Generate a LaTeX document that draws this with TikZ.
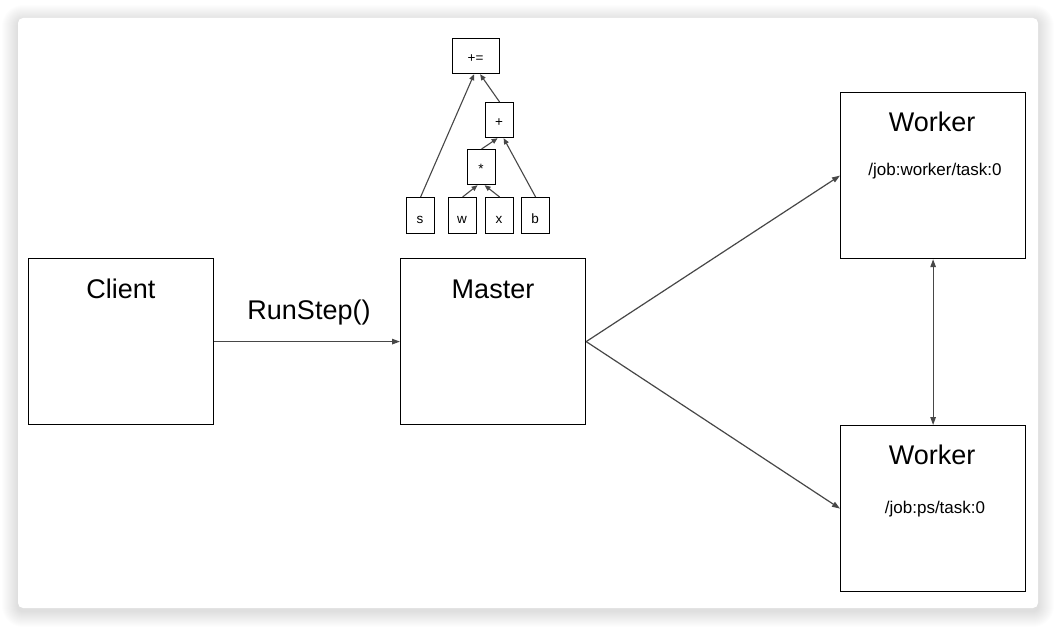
\documentclass[tikz,border=0pt]{standalone}
\usepackage{fontspec}
\setmainfont{Liberation Sans}
\usetikzlibrary{arrows.meta}
\begin{document}
\begin{tikzpicture}[x=1pt,y=-1pt,
  box/.style={draw=black,line width=1.2pt,fill=white,inner sep=0pt,anchor=north west},
  bigtxt/.style={font=\fontsize{27}{30}\selectfont,inner sep=0pt},
  midtxt/.style={font=\fontsize{17}{20}\selectfont,inner sep=0pt},
  smalltxt/.style={font=\fontsize{13.5}{15}\selectfont,inner sep=0pt},
  arr/.style={draw=black!72,line width=1.2pt,-{Triangle[length=8pt,width=5.5pt]}},
  darr/.style={draw=black!72,line width=1.2pt,{Triangle[length=8pt,width=5.5pt]}-{Triangle[length=8pt,width=5.5pt]}},
  tarr/.style={draw=black!72,line width=1.1pt,-{Triangle[length=6pt,width=5pt]}}
]
\useasboundingbox (0,0) rectangle (1056,626);
\fill[white] (0,0) rectangle (1056,626);
% card shadow
\foreach \i in {1,...,16}{
  \fill[black,opacity=0.008,rounded corners={5pt+\i pt}] (18-\i,21-\i) rectangle (1038+\i,611+\i);
}
\fill[white,rounded corners=5pt] (18,18) rectangle (1038,608);

% main boxes
\node[box,minimum width=185pt,minimum height=166pt] (client) at (28,258) {};
\node[box,minimum width=185pt,minimum height=166pt] (master) at (400,258) {};
\node[box,minimum width=185pt,minimum height=166pt] (w1) at (840,92) {};
\node[box,minimum width=185pt,minimum height=166pt] (w2) at (840,425) {};

\node[bigtxt] (clientT) at (121,289) {Client};
\node[bigtxt] (masterT) at (493,289) {Master};
\node[bigtxt] (w1T) at (932,122) {Worker};
\node[bigtxt] (w2T) at (932,455) {Worker};
\node[midtxt] (w1S) at (935,171) {/job:worker/task:0};
\node[midtxt] (w2S) at (935,509) {/job:ps/task:0};
\node[bigtxt] (runT) at (309,313) {RunStep()};

% tree boxes
\node[box,minimum width=47pt,minimum height=35pt] (pe) at (452,38) {};
\node[box,minimum width=28pt,minimum height=35pt] (plus) at (485,102) {};
\node[box,minimum width=28pt,minimum height=35pt] (star) at (467,149) {};
\node[box,minimum width=28pt,minimum height=36pt] (s) at (406,197) {};
\node[box,minimum width=28pt,minimum height=36pt] (w) at (448,197) {};
\node[box,minimum width=28pt,minimum height=36pt] (x) at (485,197) {};
\node[box,minimum width=28pt,minimum height=36pt] (b) at (521,197) {};

\node[smalltxt] (peT) at (475.5,59) {+=};
\node[smalltxt] (plusT) at (499,123) {+};
\node[smalltxt] (starT) at (481,169) {*};
\node[smalltxt] (sT) at (420,220) {s};
\node[smalltxt] (wT) at (462,220) {w};
\node[smalltxt] (xT) at (499,220) {x};
\node[smalltxt] (bT) at (535,219) {b};

% tree arrows
\draw[tarr] (s.north) -- ([xshift=-2pt]pe.south);
\draw[tarr] (plus.north) -- ([xshift=4pt]pe.south);
\draw[tarr] (star.north) -- ([xshift=-2pt]plus.south);
\draw[tarr] (b.north) -- ([xshift=4pt]plus.south);
\draw[tarr] (w.north) -- ([xshift=-4pt]star.south);
\draw[tarr] (x.north) -- ([xshift=3pt]star.south);

% main arrows
\draw[arr] (client.east) -- (master.west);
\draw[arr] (master.east) -- (w1.west);
\draw[arr] (master.east) -- (w2.west);
\draw[darr] (w1.south) -- (w2.north);
\end{tikzpicture}
\end{document}
